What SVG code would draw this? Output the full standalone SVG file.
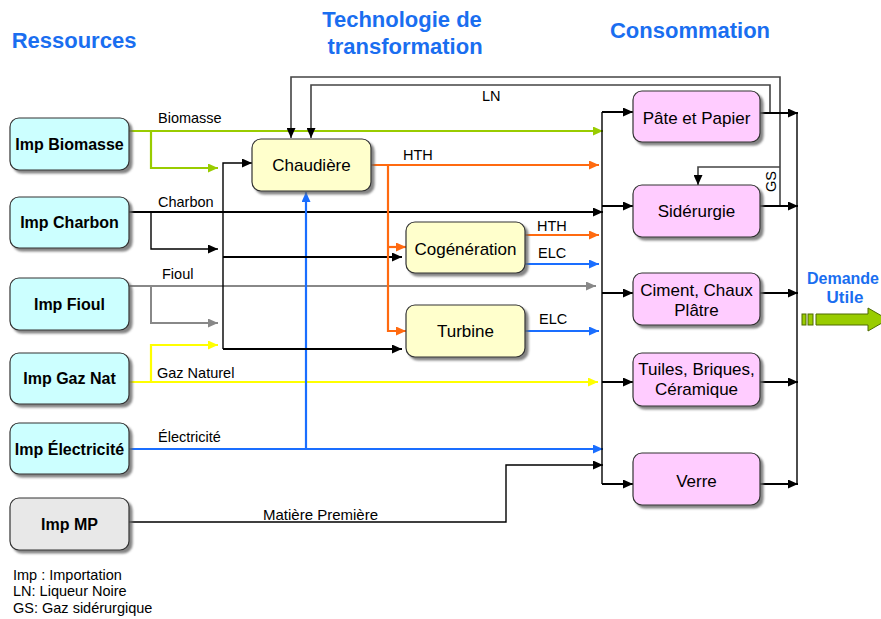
<svg xmlns="http://www.w3.org/2000/svg" width="881" height="619" viewBox="0 0 881 619">
<defs>
<style>
text{font-family:"Liberation Sans",Arial,sans-serif;fill:#000}
.title{font-size:22px;font-weight:bold;fill:#1A6EF0}
.lbl{font-size:14.5px}
.src{font-size:16px;font-weight:bold}
.nd{font-size:17px}
.leg{font-size:14.5px}
.box{stroke:#333;stroke-width:1.2}
.cyan{fill:#CCFFFF}
.yel{fill:#FFFFCC}
.pink{fill:#FFCCFF}
.grey{fill:#E8E8E8}
.c{fill:none;stroke-linejoin:miter}
.g{stroke:#99CC00;stroke-width:2.2}
.k{stroke:#000;stroke-width:2}
.kt{stroke:#000;stroke-width:1.4}
.gr{stroke:#888;stroke-width:2}
.y{stroke:#FFFF00;stroke-width:2.2}
.b{stroke:#1A6EFF;stroke-width:2.2}
.o{stroke:#FF6A10;stroke-width:2.2}
.ln{stroke:#444;stroke-width:1.6}
</style>
<filter id="sh" x="-10%" y="-10%" width="130%" height="140%">
<feDropShadow dx="3" dy="3" stdDeviation="1.2" flood-color="#666" flood-opacity="0.8"/>
</filter>
<marker id="aK" markerUnits="userSpaceOnUse" markerWidth="11" markerHeight="9" refX="10" refY="4.5" orient="auto"><path d="M0,0 L10,4.5 L0,9 z" fill="#000"/></marker>
<marker id="aG" markerUnits="userSpaceOnUse" markerWidth="11" markerHeight="9" refX="10" refY="4.5" orient="auto"><path d="M0,0 L10,4.5 L0,9 z" fill="#99CC00"/></marker>
<marker id="aGr" markerUnits="userSpaceOnUse" markerWidth="11" markerHeight="9" refX="10" refY="4.5" orient="auto"><path d="M0,0 L10,4.5 L0,9 z" fill="#888"/></marker>
<marker id="aY" markerUnits="userSpaceOnUse" markerWidth="11" markerHeight="9" refX="10" refY="4.5" orient="auto"><path d="M0,0 L10,4.5 L0,9 z" fill="#FFFF00"/></marker>
<marker id="aB" markerUnits="userSpaceOnUse" markerWidth="11" markerHeight="9" refX="10" refY="4.5" orient="auto"><path d="M0,0 L10,4.5 L0,9 z" fill="#1A6EFF"/></marker>
<marker id="aO" markerUnits="userSpaceOnUse" markerWidth="11" markerHeight="9" refX="10" refY="4.5" orient="auto"><path d="M0,0 L10,4.5 L0,9 z" fill="#FF6A10"/></marker>
</defs>
<rect width="881" height="619" fill="#fff"/>

<!-- titles -->
<text class="title" x="74" y="48" text-anchor="middle">Ressources</text>
<text class="title" x="402" y="27" text-anchor="middle">Technologie de</text>
<text class="title" x="405" y="54" text-anchor="middle">transformation</text>
<text class="title" x="690" y="38" text-anchor="middle">Consommation</text>
<text x="843" y="284" text-anchor="middle" style="font-size:16px;font-weight:bold;fill:#1A6EF0">Demande</text>
<text x="845" y="303" text-anchor="middle" style="font-size:17px;font-weight:bold;fill:#1A6EF0">Utile</text>

<!-- connectors -->
<g id="connectors">
<path class="c g" d="M129,131 H603" marker-end="url(#aG)"/>
<path class="c g" d="M151,131 V168 H218" marker-end="url(#aG)"/>
<path class="c k" d="M129,212 H603" marker-end="url(#aK)"/>
<path class="c kt" d="M151,212 V249 H218" marker-end="url(#aK)"/>
<path class="c gr" d="M129,286 H596" marker-end="url(#aGr)"/>
<path class="c gr" d="M151,286 V323 H218" marker-end="url(#aGr)"/>
<path class="c y" d="M129,382 H598" marker-end="url(#aY)"/>
<path class="c y" d="M151,382 V345 H218" marker-end="url(#aY)"/>
<path class="c b" d="M129,449 H603" marker-end="url(#aB)"/>
<path class="c b" d="M306,449 V192" marker-end="url(#aB)"/>
<path class="c kt" d="M129,522 H506 V465 H603" marker-end="url(#aK)"/>
<path class="c kt" d="M223,349 V163 H252" marker-end="url(#aK)"/>
<path class="c k" d="M223,257 H402" marker-end="url(#aK)"/>
<path class="c k" d="M223,349 H402" marker-end="url(#aK)"/>
<path class="c o" d="M371,165 H599" marker-end="url(#aO)"/>
<path class="c o" d="M388,165 V331 H406" marker-end="url(#aO)"/>
<path class="c o" d="M388,247 H406" marker-end="url(#aO)"/>
<path class="c o" d="M525,235 H599" marker-end="url(#aO)"/>
<path class="c b" d="M525,264 H599" marker-end="url(#aB)"/>
<path class="c b" d="M525,331 H599" marker-end="url(#aB)"/>
<path class="c ln" d="M770,113 V85 H311 V138" marker-end="url(#aK)"/>
<path class="c ln" d="M780,206 V77 H291 V138" marker-end="url(#aK)"/>
<path class="c ln" d="M780,167 H698 V185" marker-end="url(#aK)"/>
<path class="c kt" d="M602,112 V484"/>
<path class="c k" d="M602,112 H633" marker-end="url(#aK)"/>
<path class="c k" d="M602,206 H633" marker-end="url(#aK)"/>
<path class="c k" d="M602,293 H633" marker-end="url(#aK)"/>
<path class="c k" d="M602,382 H633" marker-end="url(#aK)"/>
<path class="c k" d="M602,484 H633" marker-end="url(#aK)"/>
<path class="c kt" d="M797,113 V484"/>
<path class="c k" d="M760,113 H798" marker-end="url(#aK)"/>
<path class="c k" d="M760,206 H798" marker-end="url(#aK)"/>
<path class="c k" d="M760,293 H798" marker-end="url(#aK)"/>
<path class="c k" d="M760,382 H798" marker-end="url(#aK)"/>
<path class="c k" d="M760,484 H798" marker-end="url(#aK)"/>
</g>

<!-- connector labels -->
<text class="lbl" x="158" y="123">Biomasse</text>
<text class="lbl" x="158" y="207">Charbon</text>
<text class="lbl" x="162" y="279">Fioul</text>
<text class="lbl" x="157" y="378">Gaz Naturel</text>
<text class="lbl" x="158" y="442">Électricité</text>
<text class="lbl" x="263" y="520" style="font-size:15px">Matière Première</text>
<text class="lbl" x="403" y="160">HTH</text>
<text class="lbl" x="537" y="231">HTH</text>
<text class="lbl" x="538" y="258">ELC</text>
<text class="lbl" x="539" y="324">ELC</text>
<text class="lbl" x="482" y="101">LN</text>
<text class="lbl" transform="translate(776,192) rotate(-90)">GS</text>

<!-- source nodes -->
<g id="imp-biomasse"><rect class="box cyan" x="10" y="118" width="119" height="52" rx="9" filter="url(#sh)"/><text class="src" x="69.5" y="150" text-anchor="middle">Imp Biomasse</text></g>
<g id="imp-charbon"><rect class="box cyan" x="10" y="197" width="119" height="51" rx="9" filter="url(#sh)"/><text class="src" x="69.5" y="228" text-anchor="middle">Imp Charbon</text></g>
<g id="imp-fioul"><rect class="box cyan" x="10" y="278" width="119" height="52" rx="9" filter="url(#sh)"/><text class="src" x="69.5" y="310" text-anchor="middle">Imp Fioul</text></g>
<g id="imp-gaz"><rect class="box cyan" x="10" y="353" width="119" height="51" rx="9" filter="url(#sh)"/><text class="src" x="69.5" y="384" text-anchor="middle">Imp Gaz Nat</text></g>
<g id="imp-elec"><rect class="box cyan" x="10" y="423" width="119" height="51" rx="9" filter="url(#sh)"/><text class="src" x="69.5" y="455" text-anchor="middle">Imp Électricité</text></g>
<g id="imp-mp"><rect class="box grey" x="10" y="498" width="119" height="52" rx="9" filter="url(#sh)"/><text class="src" x="69.5" y="530" text-anchor="middle">Imp MP</text></g>

<!-- technology nodes -->
<g id="chaudiere"><rect class="box yel" x="252" y="139" width="119" height="52" rx="9" filter="url(#sh)"/><text class="nd" x="311.5" y="171" text-anchor="middle">Chaudière</text></g>
<g id="cogeneration"><rect class="box yel" x="406" y="222" width="119" height="51" rx="9" filter="url(#sh)"/><text class="nd" x="465.5" y="255" text-anchor="middle">Cogénération</text></g>
<g id="turbine"><rect class="box yel" x="406" y="305" width="119" height="52" rx="9" filter="url(#sh)"/><text class="nd" x="465.5" y="337" text-anchor="middle">Turbine</text></g>

<!-- consumption nodes -->
<g id="pate-papier"><rect class="box pink" x="633" y="91" width="127" height="51" rx="9" filter="url(#sh)"/><text class="nd" x="696.5" y="124" text-anchor="middle">Pâte et Papier</text></g>
<g id="siderurgie"><rect class="box pink" x="633" y="185" width="127" height="52" rx="9" filter="url(#sh)"/><text class="nd" x="696.5" y="217" text-anchor="middle">Sidérurgie</text></g>
<g id="ciment"><rect class="box pink" x="633" y="273" width="127" height="52" rx="9" filter="url(#sh)"/><text class="nd" x="696.5" y="296" text-anchor="middle">Ciment, Chaux</text><text class="nd" x="696.5" y="316" text-anchor="middle">Plâtre</text></g>
<g id="tuiles"><rect class="box pink" x="633" y="353" width="127" height="53" rx="9" filter="url(#sh)"/><text class="nd" x="696.5" y="375" text-anchor="middle">Tuiles, Briques,</text><text class="nd" x="696.5" y="395" text-anchor="middle">Céramique</text></g>
<g id="verre"><rect class="box pink" x="633" y="453" width="127" height="52" rx="9" filter="url(#sh)"/><text class="nd" x="696.5" y="487" text-anchor="middle">Verre</text></g>

<!-- demand arrow -->
<g id="demande-utile" fill="#99CC00" stroke="#4F6B00" stroke-width="1">
<rect x="802" y="314" width="4" height="11"/>
<rect x="808" y="314" width="5" height="11"/>
<path d="M816,314 H868 V308 L888,319.5 L868,331 V325 H816 Z"/>
</g>

<!-- legend -->
<text class="leg" x="13" y="580">Imp : Importation</text>
<text class="leg" x="13" y="596">LN: Liqueur Noire</text>
<text class="leg" x="13" y="613">GS: Gaz sidérurgique</text>
</svg>
